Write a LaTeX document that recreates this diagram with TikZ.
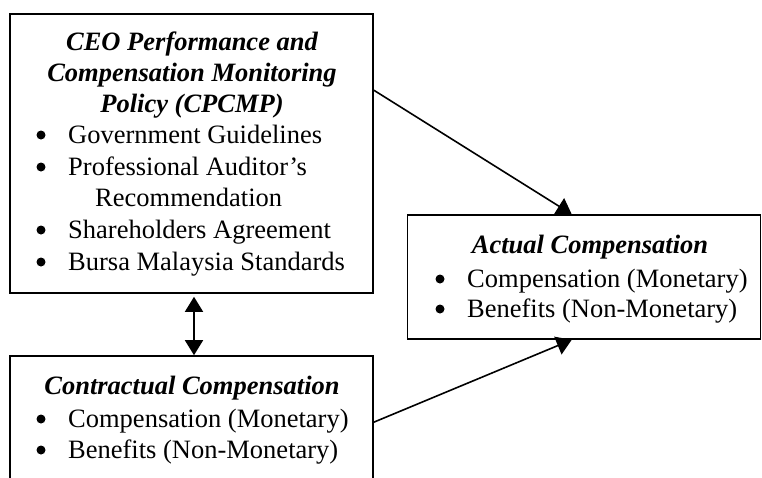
\documentclass[tikz,border=0pt]{standalone}
\usepackage{fontspec}
\setmainfont{Liberation Serif}
\usetikzlibrary{arrows.meta}
\begin{document}
\begin{tikzpicture}[x=1pt,y=-1pt,
  box/.style={draw, line width=1.6pt, inner sep=0pt, rectangle},
  txt/.style={anchor=base west, inner sep=0pt, font=\fontsize{26.5}{31.4}\selectfont},
  head/.style={anchor=base, inner sep=0pt, font=\fontsize{26.5}{31.4}\selectfont\bfseries\itshape},
  bul/.style={circle, fill, inner sep=0pt, minimum size=9pt},
  link/.style={line width=1.6pt, -{Triangle[width=19pt,length=15pt]}},
  both/.style={line width=1.6pt, {Triangle[width=18pt,length=15pt]}-{Triangle[width=18pt,length=15pt]}}
]
\useasboundingbox (0,0) rectangle (762,477);
\clip (0,0) rectangle (762,477);

% policy box
\node[box, minimum width=363pt, minimum height=279pt] (policy) at (191.5,153.5) {};
\node[head] (p1) at (192,50) {CEO Performance and};
\node[head] (p2) at (192,81) {Compensation Monitoring};
\node[head] (p3) at (192,112) {Policy (CPCMP)};
\node[bul] (pb1) at (41,135) {};
\node[txt] (pt1) at (68,143) {Government Guidelines};
\node[bul] (pb2) at (41,167) {};
\node[txt] (pt2) at (68,175) {Professional Auditor’s};
\node[txt] (pt2b) at (95,206) {Recommendation};
\node[bul] (pb3) at (41,230) {};
\node[txt] (pt3) at (68,238) {Shareholders Agreement};
\node[bul] (pb4) at (41,262) {};
\node[txt] (pt4) at (68,270) {Bursa Malaysia Standards};

% contractual box
\node[box, minimum width=363pt, minimum height=160pt] (contract) at (191.5,436) {};
\node[head] (c1) at (192,394) {Contractual Compensation};
\node[bul] (cb1) at (41,419) {};
\node[txt] (ct1) at (68,427) {Compensation (Monetary)};
\node[bul] (cb2) at (41,450) {};
\node[txt] (ct2) at (68,458) {Benefits (Non-Monetary)};

% actual box
\node[box, minimum width=353pt, minimum height=124pt] (actual) at (584,277) {};
\node[head] (a1) at (590,253) {Actual Compensation};
\node[bul] (ab1) at (440,279) {};
\node[txt] (at1) at (467,287) {Compensation (Monetary)};
\node[bul] (ab2) at (440,309) {};
\node[txt] (at2) at (467,317) {Benefits (Non-Monetary)};

% connectors
\draw[link] ([yshift=-77pt]policy.north east) -- ([xshift=165pt]actual.north west);
\draw[link] ([yshift=-67pt]contract.north east) -- ([xshift=165pt]actual.south west);
\draw[both] ([xshift=2.5pt,yshift=-3pt]policy.south) -- ([xshift=2.5pt]contract.north);
\end{tikzpicture}
\end{document}
